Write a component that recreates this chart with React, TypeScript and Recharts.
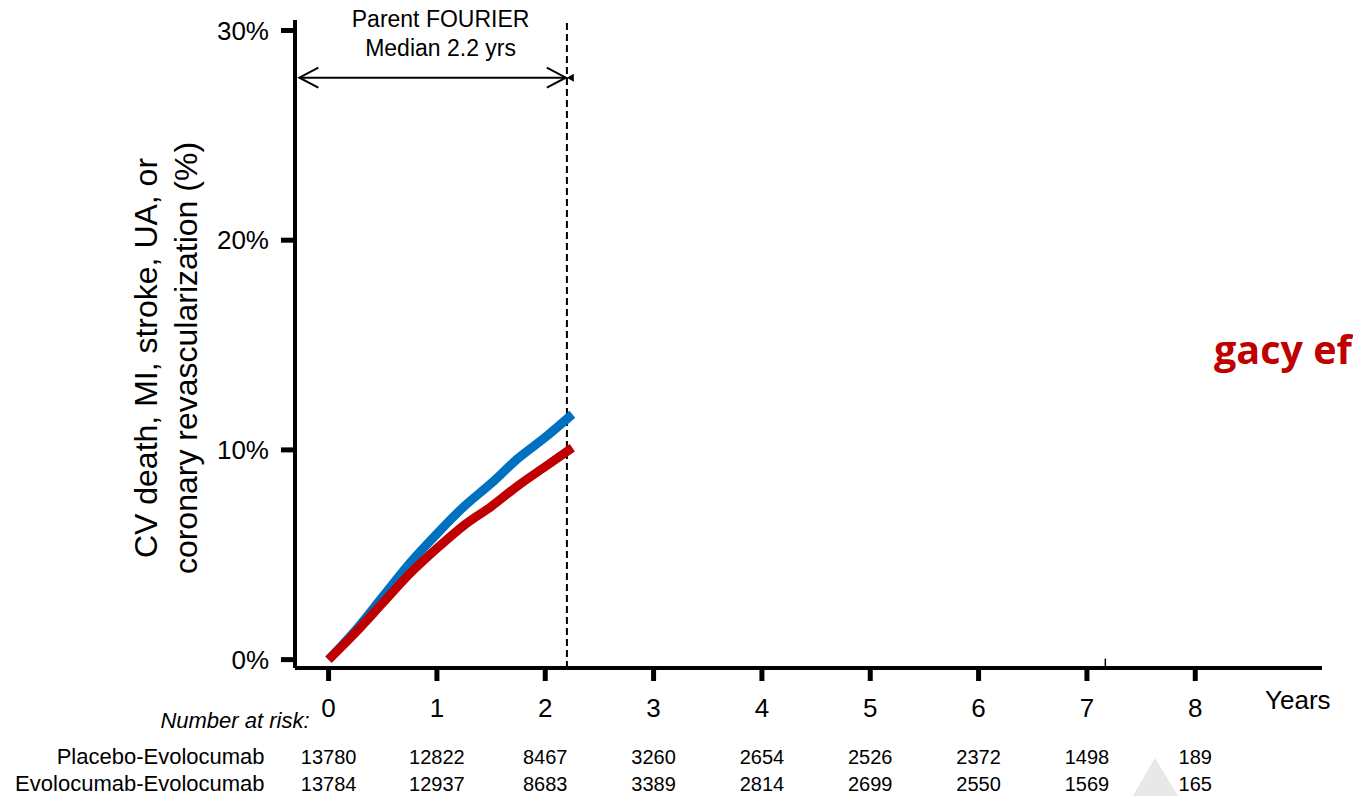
import React from 'react'
import {
  Customized,
  Line,
  LineChart,
  ReferenceLine,
  XAxis,
  YAxis,
} from 'recharts'

// cumulative incidence (%)
const years = [0, 0.25, 0.5, 0.75, 1, 1.25, 1.5, 1.75, 2, 2.25]
const placeboEvo = [0, 1.4, 3.0, 4.6, 6.0, 7.3, 8.4, 9.6, 10.6, 11.7]
const evoEvo = [0, 1.3, 2.7, 4.1, 5.3, 6.4, 7.3, 8.3, 9.2, 10.1]

const yearTicks = [0, 1, 2, 3, 4, 5, 6, 7, 8]
const pctTicks = [0, 10, 20, 30]
const atRiskPlacebo = [13780, 12822, 8467, 3260, 2654, 2526, 2372, 1498, 189]
const atRiskEvo = [13784, 12937, 8683, 3389, 2814, 2699, 2550, 1569, 165]
const rowLabels = ['Placebo-Evolocumab', 'Evolocumab-Evolocumab']

const medianFollowUp = 2.2

const data = years.map((t, i) => ({ t, blue: placeboEvo[i], red: evoEvo[i] }))

const FONT = '"Liberation Sans", Arial, sans-serif'
const BLUE = '#0070c0'
const RED = '#c00000'

const YearTick = (props: any) => {
  const { x, y, payload } = props
  const i = yearTicks.indexOf(payload.value)
  return (
    <g fontFamily={FONT} fill="#000">
      <text x={x} y={y + 36} textAnchor="middle" fontSize={26}>
        {payload.value}
      </text>
      <text x={x} y={y + 83} textAnchor="middle" fontSize={20}>
        {atRiskPlacebo[i]}
      </text>
      <text x={x} y={y + 110} textAnchor="middle" fontSize={20}>
        {atRiskEvo[i]}
      </text>
      {i === 0 && (
        <>
          <text x={x - 19} y={y + 47} textAnchor="end" fontSize={22} fontStyle="italic">
            Number at risk:
          </text>
          <text x={x - 64} y={y + 83} textAnchor="end" fontSize={22}>
            {rowLabels[0]}
          </text>
          <text x={x - 64} y={y + 110} textAnchor="end" fontSize={22}>
            {rowLabels[1]}
          </text>
        </>
      )}
    </g>
  )
}

// double-headed arrow for the parent trial span
const SpanArrow = (props: any) => {
  const { x1, y1, x2 } = props
  const y = y1
  const left = Math.min(x1, x2)
  const right = Math.max(x1, x2)
  const mid = (left + right) / 2 + 8
  return (
    <g>
      <line x1={left} y1={y} x2={right} y2={y} stroke="#000" strokeWidth={2} />
      <polyline
        points={`${left + 19},${y - 10} ${left},${y} ${left + 19},${y + 10}`}
        fill="none"
        stroke="#000"
        strokeWidth={2}
      />
      <polyline
        points={`${right - 19},${y - 10} ${right},${y} ${right - 19},${y + 10}`}
        fill="none"
        stroke="#000"
        strokeWidth={2}
      />
      <polygon
        points={`${right + 1},${y} ${right + 8},${y - 4} ${right + 8},${y + 4}`}
        fill="#000"
      />
      <text x={mid} y={y - 51} textAnchor="middle" fontSize={23} fontFamily={FONT}>
        Parent FOURIER
      </text>
      <text x={mid} y={y - 22} textAnchor="middle" fontSize={23} fontFamily={FONT}>
        Median 2.2 yrs
      </text>
    </g>
  )
}

const Decorations = () => (
  <g fontFamily={FONT}>
    <text transform="translate(157,358) rotate(-90)" textAnchor="middle" fontSize={32}>
      CV death, MI, stroke, UA, or
    </text>
    <text transform="translate(197,358) rotate(-90)" textAnchor="middle" fontSize={32}>
      coronary revascularization (%)
    </text>
    <text x={1265} y={709} fontSize={26}>
      Years
    </text>
    <polygon points="1133,796 1155,758 1178,796" fill="#e8e8e8" />
    <text
      x={1214}
      y={364}
      fontSize={39.5}
      fontWeight={700}
      fill={RED}
      fontFamily='"Open Sans", sans-serif'
    >
      gacy ef
    </text>
  </g>
)

export default function App() {
  return (
    <div style={{ position: 'absolute', left: 0, top: 0, background: '#fff' }}>
      <LineChart
        width={1353}
        height={796}
        data={data}
        margin={{ top: 20, right: 31, left: 0, bottom: 0 }}
      >
        <XAxis
          dataKey="t"
          type="number"
          domain={[-0.31, 9.17]}
          ticks={yearTicks}
          allowDataOverflow
          height={128}
          axisLine={{ stroke: '#000', strokeWidth: 4 }}
          tickLine={{ stroke: '#000', strokeWidth: 5 }}
          tickSize={13}
          tickMargin={0}
          tick={<YearTick />}
          interval={0}
        />
        <YAxis
          type="number"
          domain={[-0.4, 30.5]}
          ticks={pctTicks}
          allowDataOverflow
          width={295}
          axisLine={{ stroke: '#000', strokeWidth: 4 }}
          tickLine={{ stroke: '#000', strokeWidth: 5 }}
          tickSize={14}
          tickMargin={12}
          tickFormatter={(v) => `${v}%`}
          tick={{ fill: '#000', fontSize: 26, fontFamily: FONT }}
        />
        <ReferenceLine
          x={medianFollowUp}
          stroke="#000"
          strokeWidth={2}
          strokeDasharray="7 4"
        />
        <ReferenceLine
          segment={[
            { x: -0.27, y: 27.75 },
            { x: medianFollowUp - 0.01, y: 27.75 },
          ]}
          ifOverflow="visible"
          shape={<SpanArrow />}
        />
        <ReferenceLine
          segment={[
            { x: 7.17, y: 0.05 },
            { x: 7.17, y: -0.4 },
          ]}
          stroke="#000"
          strokeWidth={1.5}
          ifOverflow="visible"
        />
        <Line
          type="monotone"
          dataKey="blue"
          stroke={BLUE}
          strokeWidth={9}
          dot={false}
          isAnimationActive={false}
        />
        <Line
          type="monotone"
          dataKey="red"
          stroke={RED}
          strokeWidth={9}
          dot={false}
          isAnimationActive={false}
        />
        <Customized component={Decorations} />
      </LineChart>
    </div>
  )
}
